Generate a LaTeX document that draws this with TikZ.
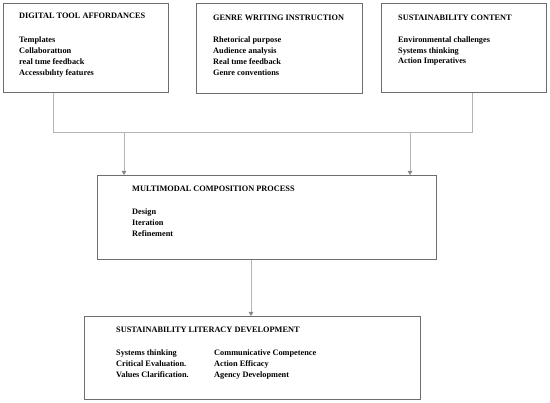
\documentclass[tikz,border=0pt]{standalone}
\usepackage{fontspec}
\setmainfont{Liberation Serif}
\usetikzlibrary{arrows.meta}
\definecolor{boxc}{RGB}{110,110,110}
\definecolor{linec}{RGB}{180,180,180}
\definecolor{tipc}{RGB}{135,135,135}
\begin{document}
\begin{tikzpicture}[x=1pt,y=-1pt,
  box/.style={draw=boxc,line width=1pt,anchor=north west,inner sep=0pt},
  ttl/.style={anchor=west,inner sep=0pt,font=\bfseries\fontsize{8.3}{10.7}\selectfont},
  lst/.style={anchor=north west,inner sep=0pt,align=left,font=\bfseries\fontsize{8.3}{10.7}\selectfont},
  conn/.style={draw=linec,line width=0.9pt},
  arr/.style={conn,-{Triangle[length=4pt,width=4.5pt,color=tipc]}}]
\useasboundingbox (0,0) rectangle (550,403);
% boxes
\node[box,minimum width=165pt,minimum height=89pt] (b1) at (3,3) {};
\node[box,minimum width=166pt,minimum height=90pt] (b2) at (196,3) {};
\node[box,minimum width=165pt,minimum height=89pt] (b3) at (381,3) {};
\node[box,minimum width=339pt,minimum height=84pt] (b4) at (97,175) {};
\node[box,minimum width=336pt,minimum height=83pt] (b5) at (84,316) {};
% texts
\node[ttl] (t1) at (19,16) {DIGITAL TOOL AFFORDANCES};
\node[lst] (l1) at (19,37) {Templates\\Collaborattıon\\real tıme feedback\\Accessıbılıty features};
\node[ttl] (t2) at (213,18) {GENRE WRITING INSTRUCTION};
\node[lst] (l2) at (213,37) {Rhetorical purpose\\Audience analysis\\Real tıme feedback\\Genre conventions};
\node[ttl] (t3) at (398,18) {SUSTAINABILITY CONTENT};
\node[lst] (l3) at (398,36.5) {Environmental challenges\\Systems thinking\\Action Imperatives};
\node[ttl] (t4) at (132,189) {MULTIMODAL COMPOSITION PROCESS};
\node[lst] (l4) at (132,209) {Design\\Iteration\\Refinement};
\node[ttl] (t5) at (116,330) {SUSTAINABILITY LITERACY DEVELOPMENT};
\node[lst] (l5a) at (116,350) {Systems thinking\\Critical Evaluation.\\Values Clarification.};
\node[lst] (l5b) at (214,350) {Communicative Competence\\Action Efficacy\\Agency Development};
% connectors
\coordinate (j1) at (53,132);
\coordinate (j3) at (472,132);
\coordinate (d1) at (124,132);
\coordinate (d2) at (410,132);
\coordinate (m5) at (251,0);
\draw[conn] (b1.south -| j1) -- (j1) -- (j3) -- (b3.south -| j3);
\draw[arr] (d1) -- (d1 |- b4.north);
\draw[arr] (d2) -- (d2 |- b4.north);
\draw[arr] (b4.south -| m5) -- (b5.north -| m5);
\end{tikzpicture}
\end{document}
